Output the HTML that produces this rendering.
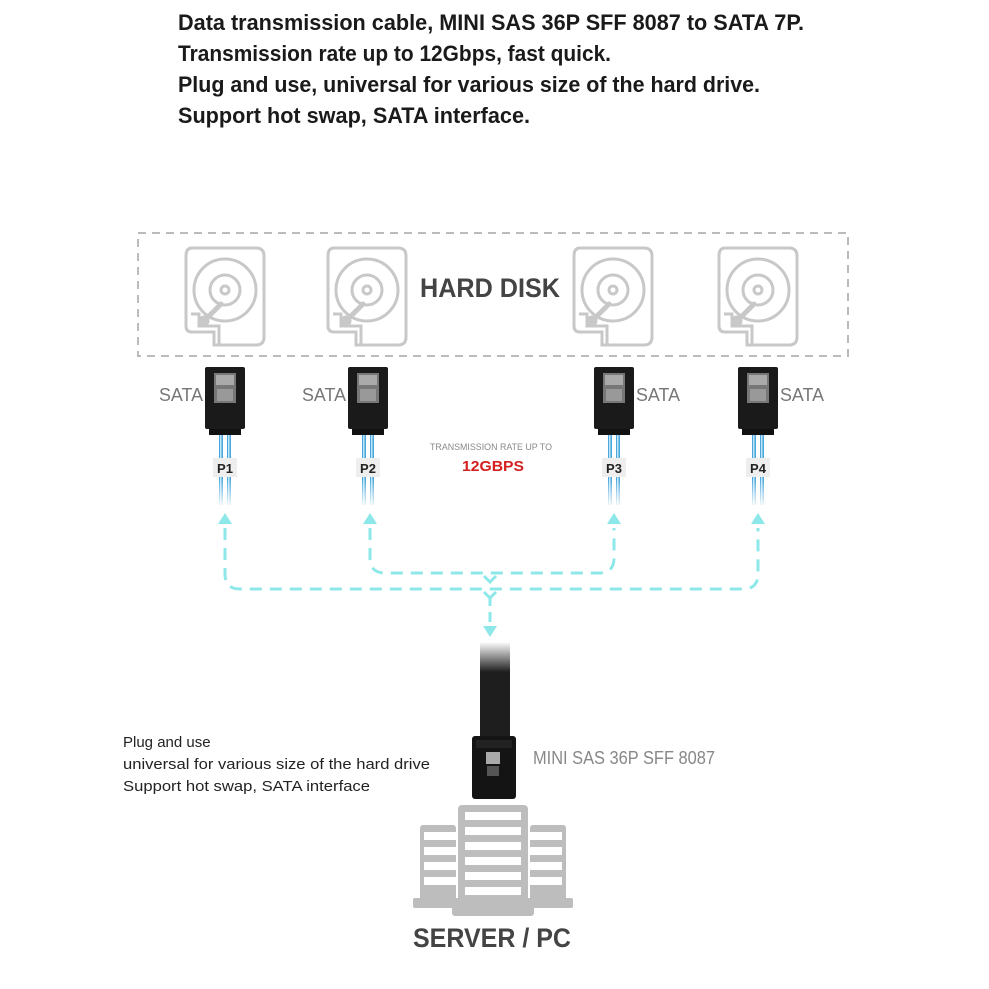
<!DOCTYPE html>
<html><head><meta charset="utf-8"><style>
html,body{margin:0;padding:0;background:#fff;}
svg{display:block;}
text{font-family:"Liberation Sans",sans-serif;}
</style></head><body>
<svg width="989" height="989" viewBox="0 0 989 989" xmlns="http://www.w3.org/2000/svg">
<defs>
<g id="disk" fill="none" stroke="#c8c8c8" stroke-width="3">
  <path d="M8,0 H72 Q80,0 80,8 V89 Q80,97 72,97 H30 V84 H8 Q2,84 2,78 V8 Q2,0 8,0 Z" transform="translate(-1,0)"/>
  <path d="M6,66 H14 V78 H34 V97"/>
  <circle cx="40" cy="42" r="31"/>
  <circle cx="40" cy="42" r="15"/>
  <circle cx="40" cy="42" r="4"/>
  <path d="M20,72 L36,56" stroke-width="5" stroke-linecap="round"/>
  <circle cx="19" cy="73" r="4" fill="#c8c8c8"/>
</g>
<g id="sata">
  <rect x="-20" y="0" width="40" height="62" rx="2" fill="#1a1a1a"/>
  <rect x="-11" y="6" width="22" height="30" fill="#777"/>
  <rect x="-9" y="8" width="18" height="10" fill="#aaa"/>
  <rect x="-8" y="22" width="16" height="12" fill="#999"/>
  <rect x="-16" y="62" width="32" height="6" fill="#111"/>
  <rect x="-6" y="68" width="4" height="70" fill="#4aa6dc"/>
  <rect x="2" y="68" width="4" height="70" fill="#4aa6dc"/>
  <rect x="-5" y="68" width="1.5" height="70" fill="#bfe6f8"/>
  <rect x="3" y="68" width="1.5" height="70" fill="#bfe6f8"/>
</g>
<linearGradient id="fade" x1="0" y1="0" x2="0" y2="1">
  <stop offset="0" stop-color="#fff" stop-opacity="0"/>
  <stop offset="1" stop-color="#fff" stop-opacity="1"/>
</linearGradient>
<linearGradient id="cabfade" x1="0" y1="0" x2="0" y2="1">
  <stop offset="0" stop-color="#fff" stop-opacity="1"/>
  <stop offset="1" stop-color="#fff" stop-opacity="0"/>
</linearGradient>
</defs>

<g font-weight="bold" fill="#1a1a1a" font-size="22">
<text x="178" y="30" textLength="626" lengthAdjust="spacingAndGlyphs">Data transmission cable, MINI SAS 36P SFF 8087 to SATA 7P.</text>
<text x="178" y="61" textLength="433" lengthAdjust="spacingAndGlyphs">Transmission rate up to 12Gbps, fast quick.</text>
<text x="178" y="92" textLength="582" lengthAdjust="spacingAndGlyphs">Plug and use, universal for various size of the hard drive.</text>
<text x="178" y="123" textLength="352" lengthAdjust="spacingAndGlyphs">Support hot swap, SATA interface.</text>
</g>

<rect x="138" y="233" width="710" height="123" fill="none" stroke="#bbb" stroke-width="2" stroke-dasharray="8 6"/>
<use href="#disk" x="185" y="248"/>
<use href="#disk" x="327" y="248"/>
<use href="#disk" x="573" y="248"/>
<use href="#disk" x="718" y="248"/>
<text x="490" y="297" text-anchor="middle" font-size="27" font-weight="bold" fill="#444" textLength="140" lengthAdjust="spacingAndGlyphs">HARD DISK</text>

<use href="#sata" x="225" y="367"/>
<use href="#sata" x="368" y="367"/>
<use href="#sata" x="614" y="367"/>
<use href="#sata" x="758" y="367"/>
<rect x="200" y="478" width="580" height="30" fill="url(#fade)"/>

<g font-size="18" fill="#777">
<text x="159" y="401" textLength="44" lengthAdjust="spacingAndGlyphs">SATA</text>
<text x="302" y="401" textLength="44" lengthAdjust="spacingAndGlyphs">SATA</text>
<text x="636" y="401" textLength="44" lengthAdjust="spacingAndGlyphs">SATA</text>
<text x="780" y="401" textLength="44" lengthAdjust="spacingAndGlyphs">SATA</text>
</g>
<g font-size="13" font-weight="bold" fill="#222" text-anchor="middle">
<rect x="213" y="458" width="24" height="19" fill="#eee"/><text x="225" y="473">P1</text>
<rect x="356" y="458" width="24" height="19" fill="#eee"/><text x="368" y="473">P2</text>
<rect x="602" y="458" width="24" height="19" fill="#eee"/><text x="614" y="473">P3</text>
<rect x="746" y="458" width="24" height="19" fill="#eee"/><text x="758" y="473">P4</text>
</g>
<text x="491" y="450" text-anchor="middle" font-size="9" fill="#888" textLength="122" lengthAdjust="spacingAndGlyphs">TRANSMISSION RATE UP TO</text>
<text x="493" y="471" text-anchor="middle" font-size="15" font-weight="bold" fill="#d42020" textLength="62" lengthAdjust="spacingAndGlyphs">12GBPS</text>

<g fill="none" stroke="#8ee8ea" stroke-width="3">
<path d="M225,528 V574 Q225,589 240,589 H743 Q758,589 758,574 V528" stroke-dasharray="12 8"/>
<path d="M370,528 V558 Q370,573 385,573 H599 Q614,573 614,558 V528" stroke-dasharray="12 8"/>
<path d="M490,596 V628" stroke-dasharray="10 6"/>
<path d="M484,576 L490,582 L496,576 M484,592 L490,598 L496,592"/>
</g>
<g fill="#8ee8ea">
<path d="M218,524 L225,513 L232,524 Z"/>
<path d="M363,524 L370,513 L377,524 Z"/>
<path d="M607,524 L614,513 L621,524 Z"/>
<path d="M751,524 L758,513 L765,524 Z"/>
<path d="M483,626 L490,637 L497,626 Z"/>
</g>

<rect x="480" y="642" width="30" height="96" fill="#1e1e1e"/>
<rect x="478" y="642" width="34" height="30" fill="url(#cabfade)"/>
<rect x="472" y="736" width="44" height="63" rx="3" fill="#141414"/>
<rect x="476" y="740" width="36" height="8" fill="#222"/>
<rect x="486" y="752" width="14" height="12" fill="#aaa"/>
<rect x="487" y="766" width="12" height="10" fill="#555"/>

<g font-size="15" fill="#222">
<text x="123" y="747">Plug and use</text>
<text x="123" y="769" textLength="307" lengthAdjust="spacingAndGlyphs">universal for various size of the hard drive</text>
<text x="123" y="791" textLength="247" lengthAdjust="spacingAndGlyphs">Support hot swap, SATA interface</text>
</g>
<text x="533" y="764" font-size="18" fill="#888" textLength="182" lengthAdjust="spacingAndGlyphs">MINI SAS 36P SFF 8087</text>

<g fill="#bdbdbd">
<rect x="420" y="825" width="36" height="80" rx="3"/>
<rect x="530" y="825" width="36" height="80" rx="3"/>
<rect x="413" y="898" width="160" height="10" rx="2"/>
<rect x="458" y="805" width="70" height="100" rx="4"/>
<rect x="452" y="902" width="82" height="14" rx="3"/>
</g>
<g fill="#fff">
<rect x="465" y="812" width="56" height="8"/>
<rect x="465" y="827" width="56" height="8"/>
<rect x="465" y="842" width="56" height="8"/>
<rect x="465" y="857" width="56" height="8"/>
<rect x="465" y="872" width="56" height="8"/>
<rect x="465" y="887" width="56" height="8"/>
<rect x="424" y="832" width="32" height="8"/>
<rect x="424" y="847" width="32" height="8"/>
<rect x="424" y="862" width="32" height="8"/>
<rect x="424" y="877" width="32" height="8"/>
<rect x="530" y="832" width="32" height="8"/>
<rect x="530" y="847" width="32" height="8"/>
<rect x="530" y="862" width="32" height="8"/>
<rect x="530" y="877" width="32" height="8"/>
</g>
<text x="492" y="947" text-anchor="middle" font-size="27" font-weight="bold" fill="#444" textLength="158" lengthAdjust="spacingAndGlyphs">SERVER / PC</text>
</svg>
</body></html>
